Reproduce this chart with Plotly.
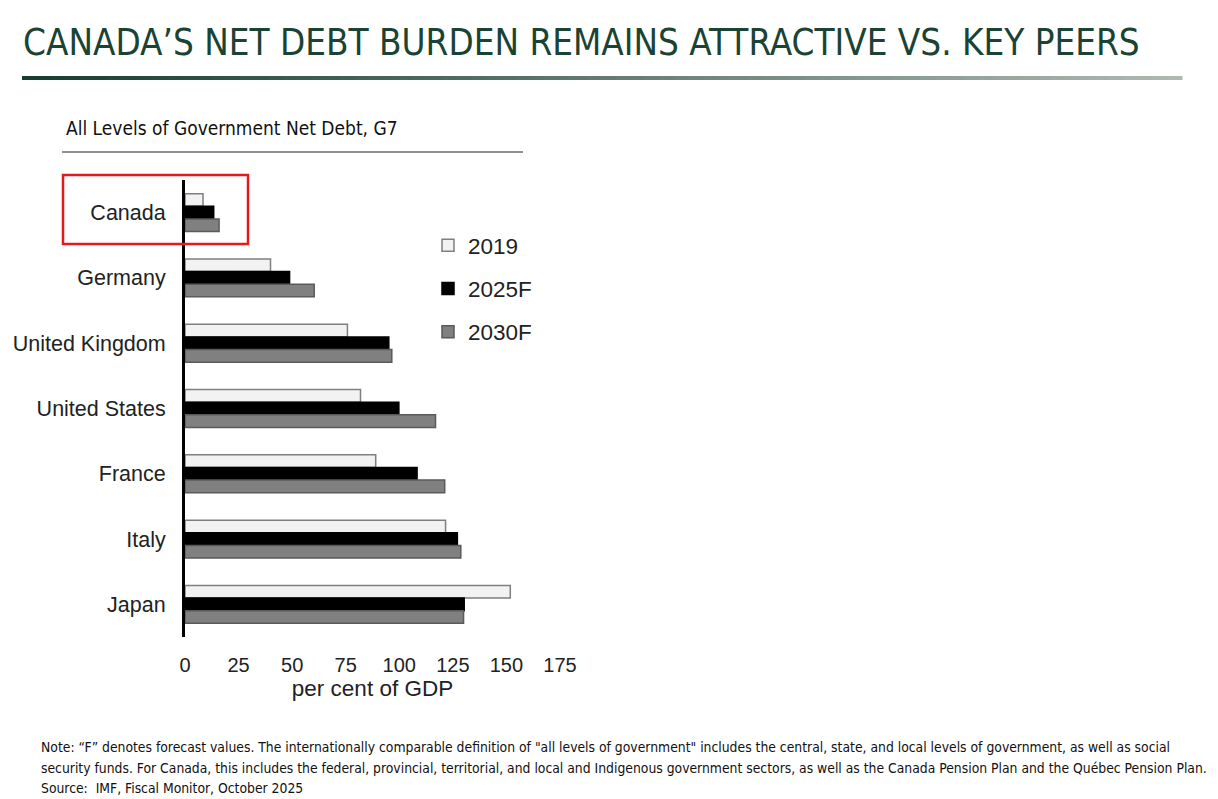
import plotly.graph_objects as go

# Data (per cent of GDP)
countries = ["Canada", "Germany", "United Kingdom", "United States", "France", "Italy", "Japan"]
debt_2019 = [8.4, 39.9, 75.8, 81.9, 89.0, 121.6, 151.8]
debt_2025f = [13.4, 48.8, 95.1, 99.8, 108.3, 127.1, 130.3]
debt_2030f = [15.9, 60.3, 96.5, 116.9, 121.2, 128.7, 130.0]
x_ticks = [0, 25, 50, 75, 100, 125, 150, 175]

W, H = 1218, 799
OFF = 8  # page body margin
L, R, T, B = 177, 666, 172, 170
PW, PH = W - L - R, H - T - B


def px_x(p):
    return (p - OFF - L) / PW


def px_y(p):
    return 1 - (p - OFF - T) / PH


series = [
    ("2019", debt_2019, "#f2f2f2", "#7f7f7f"),
    ("2025F", debt_2025f, "#000000", "#000000"),
    ("2030F", debt_2030f, "#808080", "#5a5a5a"),
]

fig = go.Figure()
for name, vals, fill, edge in series:
    fig.add_trace(go.Bar(
        y=countries, x=vals, name=name, orientation="h",
        marker=dict(color=fill, line=dict(color=edge, width=1.5)),
        legendgroup=name,
    ))

shapes = []
# gradient rule under the headline
n = 80
x0, x1 = 22, 1182
c0, c1 = (24, 62, 48), (172, 186, 178)
for i in range(n):
    t = i / (n - 1)
    col = "rgb(%d,%d,%d)" % tuple(int(a + (b - a) * t) for a, b in zip(c0, c1))
    shapes.append(dict(type="rect", xref="paper", yref="paper",
                       x0=px_x(x0 + (x1 - x0) * i / n), x1=px_x(x0 + (x1 - x0) * (i + 1) / n + 0.5),
                       y0=px_y(80), y1=px_y(76), fillcolor=col, line=dict(width=0),
                       layer="above"))
# line under subtitle
shapes.append(dict(type="line", xref="paper", yref="paper",
                   x0=px_x(62), x1=px_x(523), y0=px_y(152), y1=px_y(152),
                   line=dict(color="#222222", width=1)))
# red highlight box around Canada
shapes.append(dict(type="rect", xref="paper", yref="paper",
                   x0=px_x(63), x1=px_x(248), y0=px_y(175), y1=px_y(244),
                   line=dict(color="#e8191c", width=2.5)))

narrow = "Liberation Sans Narrow, DejaVu Sans Condensed"
annotations = [
    dict(text="CANADA\u2019S NET DEBT BURDEN REMAINS ATTRACTIVE VS. KEY PEERS",
         x=px_x(21), y=px_y(42), xanchor="left", yanchor="middle",
         font=dict(family=narrow, size=36.5, color="#1b4334")),
    dict(text="All Levels of Government Net Debt, G7",
         x=px_x(64), y=px_y(128), xanchor="left", yanchor="middle",
         font=dict(family=narrow, size=19, color="#111111")),
]
notes = [
    "Note: \u201cF\u201d denotes forecast values. The internationally comparable definition of \"all levels of government\" includes the central, state, and local levels of government, as well as social",
    "security funds. For Canada, this includes the federal, provincial, territorial, and local and Indigenous government sectors, as well as the Canada Pension Plan and the Qu\u00e9bec Pension Plan.",
    "Source:  IMF, Fiscal Monitor, October 2025",
]
for i, line in enumerate(notes):
    annotations.append(dict(text=line, x=px_x(39), y=px_y(747 + 20.5 * i),
                            xanchor="left", yanchor="middle",
                            font=dict(family=narrow, size=13.8, color="#111111")))
for a in annotations:
    a.update(xref="paper", yref="paper", showarrow=False)

fig.update_layout(
    width=W, height=H,
    margin=dict(l=L, r=R, t=T, b=B, autoexpand=False),
    paper_bgcolor="white", plot_bgcolor="white",
    barmode="group", bargap=0.42, bargroupgap=0,
    font=dict(family="Liberation Sans, Arial", size=21.5, color="#222222"),
    shapes=shapes, annotations=annotations,
    legend=dict(x=px_x(428), y=px_y(224), xanchor="left", yanchor="top",
                font=dict(size=22.5, color="#222222"), bgcolor="rgba(0,0,0,0)",
                traceorder="grouped", tracegroupgap=11, itemwidth=30),
    showlegend=True,
    xaxis=dict(range=[0, 175], tickvals=x_ticks, showgrid=False, zeroline=False,
               showline=False, ticks="", tickfont=dict(size=20), ticklabelstandoff=14,
               automargin=False,
               title=dict(text="per cent of GDP", font=dict(size=22.5), standoff=4)),
    yaxis=dict(autorange="reversed", showgrid=False, zeroline=False,
               showline=True, linecolor="#000000", linewidth=3, ticks="",
               ticklabelstandoff=12, automargin=False),
)

fig.write_html("out.html")
